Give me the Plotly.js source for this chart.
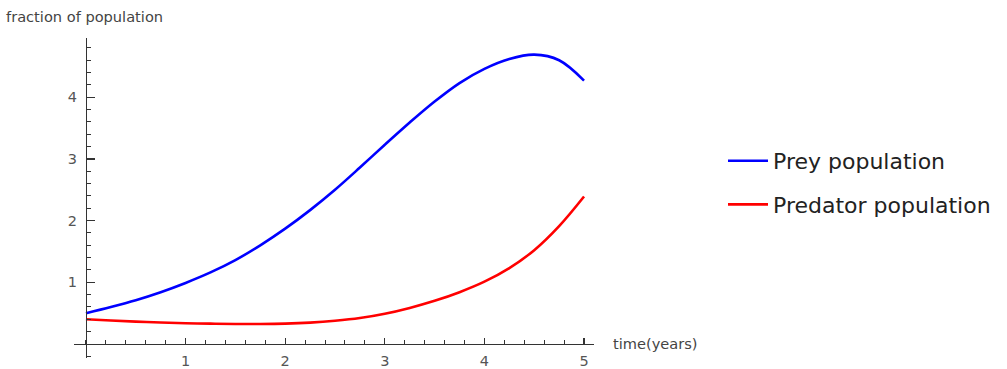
<!DOCTYPE html>
<html>
<head>
<meta charset="utf-8">
<script src="https://cdn.plot.ly/plotly-3.0.1.min.js"></script>
<style>html,body{margin:0;padding:0;background:#fff;}#chart{width:1007px;height:369px;}</style>
</head>
<body>
<div id="chart"></div>
<script>
// time (years)
const time = [0, 0.25, 0.5, 0.75, 1.0, 1.25, 1.5, 1.75, 2.0, 2.25, 2.5, 2.75, 3.0, 3.25, 3.5, 3.75, 4.0, 4.25, 4.5, 4.75, 5.0];
// fraction of population
const prey = [0.50, 0.60, 0.71, 0.84, 0.99, 1.16, 1.36, 1.60, 1.87, 2.17, 2.50, 2.86, 3.23, 3.59, 3.93, 4.23, 4.46, 4.62, 4.69, 4.60, 4.27];
const predator = [0.40, 0.38, 0.362, 0.348, 0.337, 0.330, 0.325, 0.325, 0.331, 0.347, 0.376, 0.42, 0.49, 0.585, 0.70, 0.84, 1.01, 1.23, 1.52, 1.91, 2.39];
const seriesNames = ["Prey population", "Predator population"];
const xTicks = [1, 2, 3, 4, 5];
const yTicks = [1, 2, 3, 4];
const xTitle = "time(years)";
const yTitle = "fraction of population";

const xRange = [-0.12, 5.1];
const yRange = [-0.227, 4.96];

const traces = [
  {x: time, y: prey, name: seriesNames[0], mode: "lines", line: {color: "#0000ff", width: 2.6, shape: "spline", smoothing: 1}, legendgroup: "a"},
  {x: time, y: predator, name: seriesNames[1], mode: "lines", line: {color: "#ff0000", width: 2.6, shape: "spline", smoothing: 1}, legendgroup: "b"}
];

const tickFont = {family: "DejaVu Sans", size: 14.5, color: "#555"};
const layout = {
  width: 1007, height: 369,
  margin: {l: 74, r: 413, t: 38, b: 11},
  paper_bgcolor: "#fff", plot_bgcolor: "#fff",
  showlegend: true,
  xaxis: {
    range: xRange, domain: [0, 1], anchor: "free",
    position: (0 - yRange[0]) / (yRange[1] - yRange[0]),
    showgrid: false, zeroline: false, showline: true, linecolor: "#333", linewidth: 1.2,
    tickmode: "array", tickvals: xTicks, ticks: "inside", ticklen: 6, tickwidth: 1.2, tickcolor: "#333",
    minor: {tickmode: "linear", tick0: 0, dtick: 0.2, ticks: "inside", ticklen: 4, tickwidth: 1, tickcolor: "#333", showgrid: false},
    tickfont: tickFont, ticklabelstandoff: 3
  },
  yaxis: {
    range: yRange, domain: [0, 1], anchor: "free",
    position: (0 - xRange[0]) / (xRange[1] - xRange[0]),
    showgrid: false, zeroline: false, showline: true, linecolor: "#333", linewidth: 1.2,
    tickmode: "array", tickvals: yTicks, ticks: "inside", ticklen: 8, tickwidth: 1.2, tickcolor: "#333",
    minor: {tickmode: "linear", tick0: 0, dtick: 0.2, ticks: "inside", ticklen: 4, tickwidth: 1, tickcolor: "#333", showgrid: false},
    tickfont: tickFont, ticklabelstandoff: 6
  },
  legend: {
    x: (723 - 74) / 520, xanchor: "left", y: (358 - 140) / 320, yanchor: "top",
    font: {family: "DejaVu Sans", size: 22, color: "#222"},
    bgcolor: "rgba(0,0,0,0)", borderwidth: 0,
    traceorder: "grouped", tracegroupgap: 12, itemwidth: 40
  },
  annotations: [
    {text: yTitle, xref: "paper", yref: "paper", x: (4 - 74) / 520, y: (358 - 17) / 320, xanchor: "left", yanchor: "middle", showarrow: false, font: {family: "DejaVu Sans", size: 14.6, color: "#444"}},
    {text: xTitle, xref: "paper", yref: "paper", x: (611 - 74) / 520, y: (358 - 343) / 320, xanchor: "left", yanchor: "middle", showarrow: false, font: {family: "DejaVu Sans", size: 14.6, color: "#444"}}
  ]
};

Plotly.newPlot("chart", traces, layout, {displayModeBar: false, staticPlot: true});
</script>
</body>
</html>
